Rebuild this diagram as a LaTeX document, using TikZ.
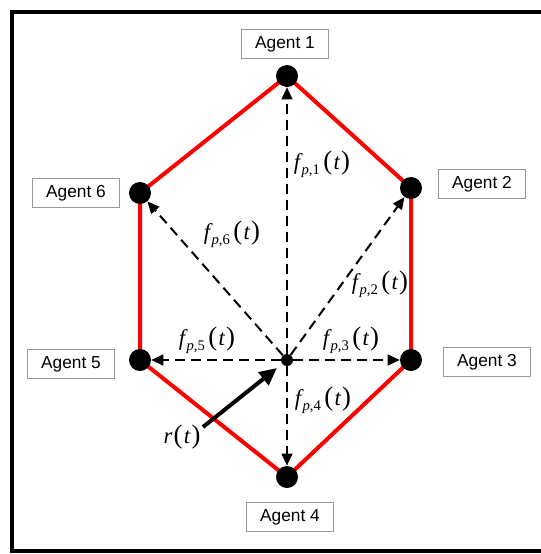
\documentclass[tikz,border=0pt]{standalone}
\usepackage{fontspec}
\setmainfont{Liberation Serif}
\newfontfamily\agentfont{Liberation Sans}
\usetikzlibrary{arrows.meta}
% formation vector label, Times-like italics
\newcommand{\fvec}[1]{{\itshape f}\kern1pt\raisebox{-0.45ex}{\fontsize{11}{11}\selectfont\itshape p\upshape,#1}\kern2.5pt{\fontsize{20}{20}\selectfont(}\kern1pt{\itshape t}\kern1pt{\fontsize{20}{20}\selectfont)}}
\begin{document}
\begin{tikzpicture}[
  x=0.75pt, y=-0.75pt,
  agent/.style={circle, fill=black, inner sep=0pt, minimum size=16.5pt},
  hub/.style={circle, fill=black, inner sep=0pt, minimum size=9pt},
  tag/.style={rectangle, draw=gray!80, line width=0.6pt, minimum width=65pt,
              minimum height=22pt, inner sep=0pt,
              font=\agentfont\fontsize{13}{15}\selectfont},
  formation/.style={draw=red, line width=3pt, line join=round},
  force/.style={dash pattern=on 7.5pt off 4.5pt, line width=1.5pt,
                -{Triangle[length=9pt, width=8pt]}},
  ref/.style={line width=3pt, -{Triangle[length=13pt, width=12pt]}, shorten >=5pt},
  lab/.style={font=\fontsize{17}{19}\selectfont, inner sep=1pt},
]
  \useasboundingbox (0,0) rectangle (541,554);

  % Frame (open on the right)
  \draw[line width=3pt] (541,12) -- (12,12) -- (12,551) -- (541,551);

  % Agent positions
  \coordinate (p1) at (287,76);
  \coordinate (p2) at (411,188);
  \coordinate (p3) at (411,360);
  \coordinate (p4) at (287,477);
  \coordinate (p5) at (140,360);
  \coordinate (p6) at (140,193);

  % Formation hexagon
  \draw[formation] (p1) -- (p2) -- (p3) -- (p4) -- (p5) -- (p6) -- cycle;

  % Agents and virtual centre
  \foreach \i in {1,...,6}
    \node[agent] (a\i) at (p\i) {};
  \node[hub] (c) at (287,360) {};

  % Agent tags
  \node[tag] at (285,44) (t1) {Agent 1};
  \node[tag] at (482,184) (t2) {Agent 2};
  \node[tag] at (487,362) (t3) {Agent 3};
  \node[tag] at (290,517) (t4) {Agent 4};
  \node[tag] at (71,364) (t5) {Agent 5};
  \node[tag] at (76,193) (t6) {Agent 6};

  % Formation vectors
  \foreach \i in {1,...,6}
    \draw[force] (c) -- (a\i);

  % Vector labels
  \node[lab] at (322,164) (f1) {\fvec{1}};
  \node[lab] at (380,284) (f2) {\fvec{2}};
  \node[lab] at (351,340) (f3) {\fvec{3}};
  \node[lab] at (323,400) (f4) {\fvec{4}};
  \node[lab] at (207,340) (f5) {\fvec{5}};
  \node[lab] at (232,234) (f6) {\fvec{6}};

  % Reference trajectory
  \coordinate (rs) at (203,427);
  \draw[ref] (rs) -- (c);
  \node[lab] at (182,437) (r) {{\itshape r}\kern1pt{\fontsize{20}{20}\selectfont(}\kern1pt{\itshape t}\kern1pt{\fontsize{20}{20}\selectfont)}};
\end{tikzpicture}
\end{document}
